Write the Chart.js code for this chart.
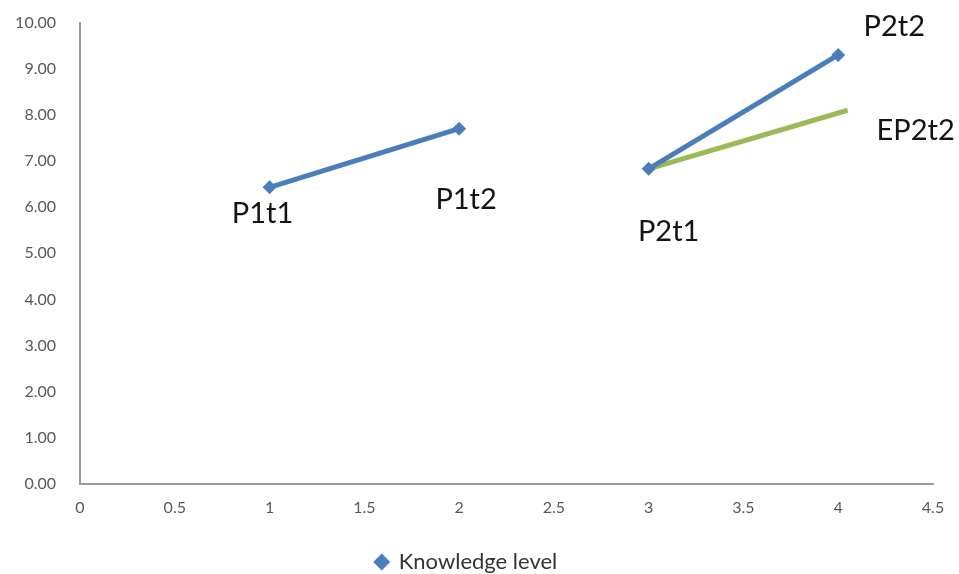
<!DOCTYPE html>
<html>
<head>
<meta charset="utf-8">
<script src="https://cdn.jsdelivr.net/npm/chart.js@4/dist/chart.umd.min.js"></script>
<style>
	html, body { margin: 0; padding: 0; background: #ffffff; overflow: hidden; }
	#box { width: 959px; height: 585px; margin-top: -11px; }
</style>
</head>
<body>
<div id="box"><canvas id="chart"></canvas></div>
<script>
// ----------------------------------------------------------------------
//	data
// ----------------------------------------------------------------------
const p1_x = [1, 2]
const p1_y = [6.43, 7.70]
const p1_names = ["P1t1", "P1t2"]

const p2_x = [3, 4]
const p2_y = [6.83, 9.30]
const p2_names = ["P2t1", "P2t2"]

const ep_x = [3, 4.05]
const ep_y = [6.83, 8.10]
const ep_names = ["", "EP2t2"]

const series_label = "Knowledge level"

// ----------------------------------------------------------------------
function to_points (xs, ys)
{
	const pts = []
	for (var it = 0; it < xs.length; it++)
		{
		pts.push ({x: xs[it], y: ys[it]})
		}
	return pts
}

// text placement next to the points (pixel offsets from each point)
const name_offsets = {
	"P1t1": [-7, 26],
	"P1t2": [7, 71],
	"P2t1": [20, 63],
	"P2t2": [56, -28],
	"EP2t2": [68, 20]
	}

const name_plugin = {
	id: 'names',
	afterDatasetsDraw (chart)
		{
		const ctx = chart.ctx
		const xs = chart.scales.x
		const ys = chart.scales.y
		const groups = [[p1_x, p1_y, p1_names], [p2_x, p2_y, p2_names], [ep_x, ep_y, ep_names]]
		ctx.save ()
		ctx.font = "29px Lato"
		ctx.fillStyle = "#141414"
		ctx.textAlign = "center"
		ctx.textBaseline = "middle"
		for (const gg of groups)
			{
			for (var it = 0; it < gg[0].length; it++)
				{
				const name = gg[2][it]
				if (! name) continue
				const off = name_offsets[name]
				ctx.fillText (name, xs.getPixelForValue (gg[0][it]) + off[0],
					ys.getPixelForValue (gg[1][it]) + off[1])
				}
			}
		ctx.restore ()
		}
	}

// ----------------------------------------------------------------------
const blue = '#4a7ebb'
const green = '#9bbb59'

const config = {
	type: 'scatter',
	data: {
		datasets: [
			{label: series_label,
			data: to_points (p1_x, p1_y),
			showLine: true,
			borderColor: blue,
			backgroundColor: blue,
			borderWidth: 5,
			pointStyle: 'rectRot',
			pointRadius: 7,
			pointBorderWidth: 0
			},
			{label: series_label + " 2",
			data: to_points (p2_x, p2_y),
			showLine: true,
			borderColor: blue,
			backgroundColor: blue,
			borderWidth: 5,
			pointStyle: 'rectRot',
			pointRadius: 7,
			pointBorderWidth: 0
			},
			{label: "EP2t2",
			data: to_points (ep_x, ep_y),
			showLine: true,
			borderColor: green,
			backgroundColor: green,
			borderWidth: 5,
			pointRadius: 0
			}
			]
		},
	options: {
		responsive: true,
		maintainAspectRatio: false,
		animation: false,
		layout: {autoPadding: false, padding: {top: 0, right: 26, left: 0, bottom: -9}},
		plugins: {
			tooltip: {enabled: false},
			legend: {
				position: 'bottom',
				labels: {
					filter: (item) => item.datasetIndex === 0,
					usePointStyle: true,
					pointStyle: 'rectRot',
					boxWidth: 12,
					boxHeight: 12,
					color: '#333333',
					font: {family: 'Lato', size: 22},
					padding: 2
					}
				},
			},
		scales: {
			x: {
				type: 'linear',
				min: 0,
				max: 4.5,
				grid: {display: false, drawTicks: false},
				border: {display: true, color: '#9a9a9a', width: 2},
				ticks: {stepSize: 0.5, color: '#595959', font: {family: 'Lato', size: 16}, padding: 14,
					callback: (v) => String (v)},
				afterFit: (scale) => { scale.height = 65 }
				},
			y: {
				min: 0,
				max: 10,
				grid: {display: false, drawTicks: false},
				border: {display: true, color: '#9a9a9a', width: 2},
				ticks: {stepSize: 1, color: '#595959', font: {family: 'Lato', size: 16}, padding: 24,
					callback: (v) => Number (v).toFixed (2)},
				afterFit: (scale) => { scale.width = 80 }
				}
			}
		},
	plugins: [name_plugin]
	}

const chart = new Chart (document.getElementById ("chart"), config)
</script>
</body>
</html>
